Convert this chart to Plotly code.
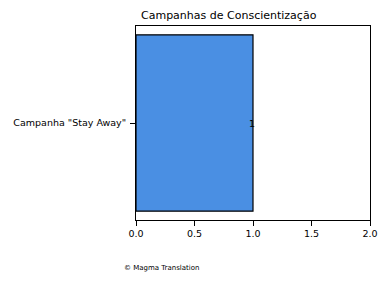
import plotly.graph_objects as go

categories = ['Campanha "Stay Away"']
values = [1]
labels = ["1"]
x_ticks = [0.0, 0.5, 1.0, 1.5, 2.0]

fig = go.Figure()
fig.add_trace(go.Bar(
    x=values, y=categories, orientation="h", width=0.8,
    marker=dict(color="#4a8fe3", line=dict(color="black", width=1.2)),
    showlegend=False,
))
for v, c, t in zip(values, categories, labels):
    fig.add_annotation(x=v, y=c, text=t, showarrow=False, xanchor="center",
                       xshift=-1, font=dict(size=9.5, color="black", family="DejaVu Sans"))

fig.update_layout(
    width=390, height=282,
    margin=dict(l=136, r=18, t=26, b=62),
    paper_bgcolor="white", plot_bgcolor="white",
    font=dict(family="DejaVu Sans", size=9.5, color="black"),
    title=dict(text="Campanhas de Conscientização", x=141/390, xanchor="left",
               y=1-15/282, yanchor="middle", font=dict(size=11, color="black")),
    xaxis=dict(range=[0, 2], tickvals=x_ticks, tickformat=".1f", ticks="outside",
               ticklen=5, tickcolor="black", showgrid=False, zeroline=False,
               showline=True, linecolor="black", linewidth=1, mirror=True),
    yaxis=dict(range=[-0.44, 0.44], ticks="outside", ticklen=5, tickcolor="black",
               ticklabelstandoff=2,
               showgrid=False, zeroline=False, showline=True, linecolor="black",
               linewidth=1, mirror=True),
)
fig.add_annotation(text="© Magma Translation", xref="paper", yref="paper",
                   x=(122-136)/236, y=-(268-220)/194, xanchor="left", yanchor="middle",
                   showarrow=False, font=dict(size=7, color="black"))
fig.write_html("out.html")
